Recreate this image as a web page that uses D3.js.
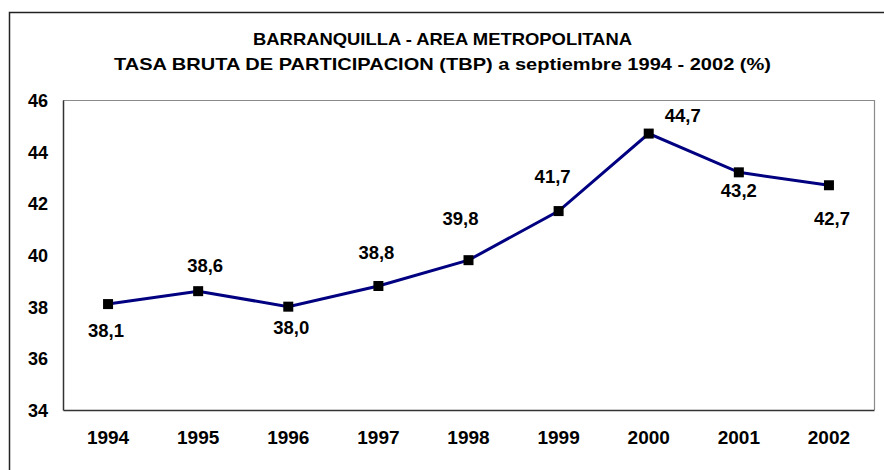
<!DOCTYPE html>
<html>
<head>
<meta charset="utf-8">
<script src="https://cdn.jsdelivr.net/npm/d3@7/dist/d3.min.js"></script>
<style>
html,body{margin:0;padding:0;background:#fff;}
svg{display:block;}
text{font-family:"Liberation Sans",Arial,sans-serif;font-weight:bold;fill:#000;}
</style>
</head>
<body>
<svg id="chart" width="884" height="470"></svg>
<script>
const titleLines = ["BARRANQUILLA - AREA METROPOLITANA", "TASA BRUTA DE PARTICIPACION (TBP) a septiembre 1994 - 2002 (%)"];
const years = ["1994","1995","1996","1997","1998","1999","2000","2001","2002"];
const tbp = [38.1, 38.6, 38.0, 38.8, 39.8, 41.7, 44.7, 43.2, 42.7];
const yTicks = [34, 36, 38, 40, 42, 44, 46];
// label placement relative to point (dx, dy of label centre)
const labelDx = [-2, 7, 3, -2, -8, -6, 34, 0, 3];
const labelDy = [26, -26, 21, -34, -42, -35, -18, 18, 33];

const svg = d3.select("#chart");
const W = 884, H = 470;
const m = {left: 63, right: 874, top: 100, bottom: 410};

svg.append("rect").attr("x", 0).attr("y", 0).attr("width", W).attr("height", H).attr("fill", "#fff");
// outer chart border
svg.append("rect").attr("x", 9.5).attr("y", 12.5).attr("width", 900).attr("height", 500)
  .attr("fill", "none").attr("stroke", "#222").attr("stroke-width", 1.5);

const x = d3.scaleBand().domain(years).range([m.left, m.right]);
const y = d3.scaleLinear().domain([34, 46]).range([m.bottom, m.top]);

// plot area frame (top/right gray)
svg.append("path")
  .attr("d", `M${m.left},${m.top + 0.5}H${m.right + 0.5}V${m.bottom}`)
  .attr("fill", "none").attr("stroke", "#8a8a8a").attr("stroke-width", 1.2);

// axes
const yAxis = d3.axisLeft(y).tickValues(yTicks).tickSize(0).tickPadding(15).tickFormat(d3.format("d"));
const gy = svg.append("g").attr("transform", `translate(${m.left},0)`).call(yAxis);
gy.select(".domain").attr("stroke", "#333").attr("stroke-width", 1.5);
gy.selectAll("text").attr("font-size", 18).attr("dy", "0.36em")
  .style("font-family", "'Liberation Sans',Arial,sans-serif").style("font-weight", "bold");

const xAxis = d3.axisBottom(x).tickSize(0).tickPadding(21);
const gx = svg.append("g").attr("transform", `translate(0,${m.bottom})`).call(xAxis);
gx.select(".domain").attr("stroke", "#333").attr("stroke-width", 1.5);
gx.selectAll("text").attr("font-size", 19).attr("dy", "0.71em")
  .style("font-family", "'Liberation Sans',Arial,sans-serif").style("font-weight", "bold");

const cx = d => x(d) + x.bandwidth() / 2;

// line
const line = d3.line().x((d, i) => cx(years[i])).y(d => y(d));
svg.append("path").datum(tbp).attr("d", line)
  .attr("fill", "none").attr("stroke", "#000080").attr("stroke-width", 3);

// markers
const ms = 10;
svg.selectAll("rect.mk").data(tbp).enter().append("rect").attr("class", "mk")
  .attr("x", (d, i) => cx(years[i]) - ms / 2)
  .attr("y", d => y(d) - ms / 2)
  .attr("width", ms).attr("height", ms).attr("fill", "#000");

// data labels
const fmt = v => d3.format(".1f")(v).replace(".", ",");
svg.selectAll("text.lbl").data(tbp).enter().append("text").attr("class", "lbl")
  .attr("x", (d, i) => cx(years[i]) + labelDx[i])
  .attr("y", (d, i) => y(d) + labelDy[i])
  .attr("dy", "0.36em")
  .attr("text-anchor", "middle").attr("font-size", 18.5)
  .text(fmt);

// title
const tY = [45, 70];
const tLen = [379, 657];
svg.selectAll("text.title").data(titleLines).enter().append("text").attr("class", "title")
  .attr("x", 442.5).attr("y", (d, i) => tY[i])
  .attr("text-anchor", "middle").attr("font-size", 17)
  .attr("textLength", (d, i) => tLen[i]).attr("lengthAdjust", "spacingAndGlyphs")
  .text(d => d);
</script>
</body>
</html>
